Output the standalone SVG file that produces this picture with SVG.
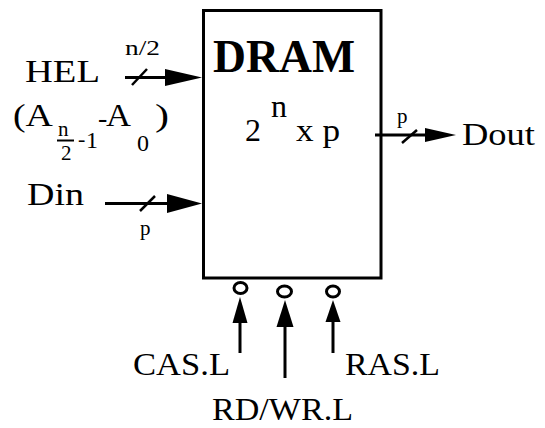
<svg xmlns="http://www.w3.org/2000/svg" width="545" height="428" viewBox="0 0 545 428">
<style>
text{font-family:"Liberation Serif","Times New Roman",serif;fill:#000}
.lbl{font-size:31px}
.sm{font-size:21px}
.ln{stroke:#000;stroke-width:3;fill:none}
.sl{stroke:#000;stroke-width:2.5;fill:none}
.hd{fill:#000;stroke:none}
.bub{fill:#fff;stroke:#000;stroke-width:3}
</style>
<rect width="545" height="428" fill="#fff"/>
<g id="dram">
<rect x="203.5" y="10.5" width="177.5" height="267.5" fill="#fff" stroke="#000" stroke-width="3"/>
<text x="213" y="72" font-size="46" font-weight="bold" textLength="142" lengthAdjust="spacingAndGlyphs">DRAM</text>
<text x="245" y="141" font-size="32">2</text>
<text x="271" y="117" font-size="32">n</text>
<text x="296" y="141" font-size="31" textLength="44" lengthAdjust="spacingAndGlyphs">x p</text>
<ellipse class="bub" cx="240.5" cy="288" rx="6.5" ry="5.5"/>
<ellipse class="bub" cx="284.5" cy="291.5" rx="7" ry="5.5"/>
<ellipse class="bub" cx="333" cy="291.5" rx="6.5" ry="5.5"/>
</g>
<g id="hel">
<text class="lbl" x="25" y="82" textLength="75" lengthAdjust="spacingAndGlyphs">HEL</text>
<text class="lbl" x="13" y="126" textLength="40" lengthAdjust="spacingAndGlyphs">(A</text>
<text x="58" y="136" font-size="21">n</text>
<line x1="57" y1="140.5" x2="74" y2="140.5" stroke="#000" stroke-width="2"/>
<text x="61" y="160" font-size="21">2</text>
<text x="78" y="146" font-size="22">-</text>
<text x="86" y="148" font-size="24">1</text>
<text x="98" y="127" font-size="28">-</text>
<text class="lbl" x="106" y="126" textLength="25" lengthAdjust="spacingAndGlyphs">A</text>
<text x="137" y="151" font-size="24">0</text>
<text class="lbl" x="155" y="126" textLength="14" lengthAdjust="spacingAndGlyphs">)</text>
</g>
<g id="din">
<text class="lbl" x="27" y="205" textLength="57" lengthAdjust="spacingAndGlyphs">Din</text>
</g>
<g id="dout">
<text class="lbl" x="462" y="145" textLength="73" lengthAdjust="spacingAndGlyphs">Dout</text>
</g>
<g id="cas">
<text class="lbl" x="133" y="375" textLength="97" lengthAdjust="spacingAndGlyphs">CAS.L</text>
</g>
<g id="rdwr">
<text class="lbl" x="212" y="420" textLength="141" lengthAdjust="spacingAndGlyphs">RD/WR.L</text>
</g>
<g id="ras">
<text class="lbl" x="345" y="375" textLength="95" lengthAdjust="spacingAndGlyphs">RAS.L</text>
</g>
<g id="connectors">
<line class="ln" x1="125" y1="77.5" x2="167" y2="77.5"/>
<polygon class="hd" points="165,69 202,77.5 165,86"/>
<line class="sl" x1="132" y1="85" x2="147" y2="69"/>
<text class="sm" x="125" y="55" textLength="35" lengthAdjust="spacingAndGlyphs">n/2</text>
<line class="ln" x1="105" y1="203.5" x2="169" y2="203.5"/>
<polygon class="hd" points="167,194 202,203.5 167,213"/>
<line class="sl" x1="140" y1="211" x2="155" y2="196"/>
<text class="sm" x="140" y="235">p</text>
<line class="ln" x1="375" y1="135" x2="427" y2="135"/>
<polygon class="hd" points="425,128 456,135 425,142"/>
<line class="sl" x1="402" y1="143" x2="417" y2="130"/>
<text class="sm" x="397" y="123">p</text>
<line class="ln" x1="240" y1="353" x2="240" y2="320"/>
<polygon class="hd" points="232.5,323 240,297 247.5,323"/>
<line class="ln" x1="285" y1="378" x2="285" y2="324"/>
<polygon class="hd" points="276.5,327 285,300 293.5,327"/>
<line class="ln" x1="333" y1="353" x2="333" y2="319"/>
<polygon class="hd" points="325.5,322 333,300 340.5,322"/>
</g>
</svg>
